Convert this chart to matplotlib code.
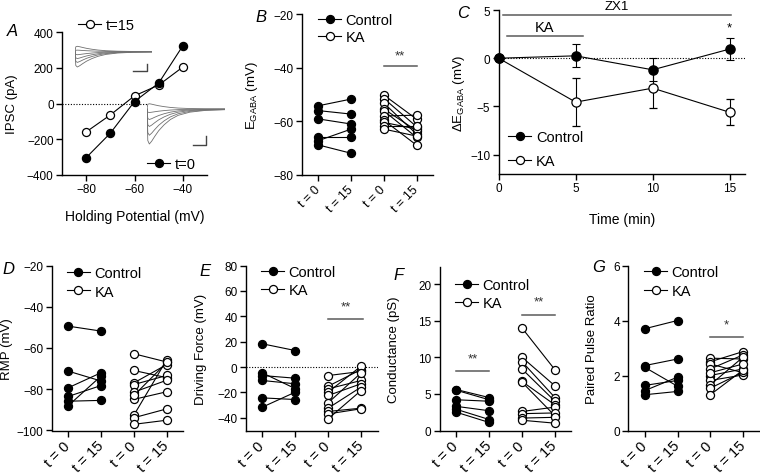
import matplotlib
matplotlib.use('Agg')
import matplotlib.pyplot as plt
from matplotlib.lines import Line2D

plt.rcParams['font.family'] = ['Liberation Sans', 'DejaVu Sans']

# ---------------- data ----------------
# Panel A: IV curve
hold_v = [-80, -70, -60, -50, -40]
ipsc_t0 = [-303, -166, 11, 114, 323]
ipsc_t15 = [-159, -64, 43, 103, 204]
# inset traces (normalized time course, amplitudes)
trace_t = [0, 0.01, 0.03, 0.06, 0.10, 0.15, 0.22, 0.30, 0.40, 0.55, 0.75, 1.0]
trace_shape = [0, 0.9, 1.0, 0.92, 0.78, 0.62, 0.45, 0.30, 0.18, 0.09, 0.04, 0.02]
amp_t15 = [-1.0, -0.7, -0.45, -0.2, 0.1, 0.35]
amp_t0 = [-1.0, -0.75, -0.5, -0.3, -0.1, 0.15]

# Panel B: E_GABA
b_ctrl_t0 = [-54.2, -56.0, -59.1, -66.0, -67.2, -68.8]
b_ctrl_t15 = [-51.7, -57.3, -61.0, -66.0, -62.9, -71.9]
b_ka_t0 = [-50.2, -51.5, -53.2, -55.4, -56.1, -58.0, -59.6, -60.4, -61.7, -62.9]
b_ka_t15 = [-59.2, -62.0, -64.8, -63.5, -66.0, -57.7, -68.9, -62.9, -61.7, -65.5]

# Panel C: delta E_GABA over time
time_min = [0, 5, 10, 15]
c_ctrl = [0, 0.25, -1.2, 0.95]
c_ctrl_err = [0, 1.2, 1.2, 1.15]
c_ka = [0, -4.55, -3.1, -5.6]
c_ka_err = [0, 2.45, 2.1, 1.35]

# Panel D: RMP
d_ctrl_t0 = [-49.4, -71.2, -79.3, -83.5, -85.8, -88.0]
d_ctrl_t15 = [-51.8, -76.0, -72.0, -78.2, -85.4, -73.6]
d_ka_t0 = [-62.8, -70.9, -76.9, -77.7, -81.4, -84.9, -92.5, -93.8, -97.0, -83.0]
d_ka_t15 = [-66.8, -74.4, -68.0, -73.3, -75.6, -81.2, -65.6, -89.5, -95.0, -67.0]

# Panel E: driving force
e_ctrl_t0 = [18.3, -4.6, -6.7, -10.6, -24.3, -31.6]
e_ctrl_t15 = [13.0, -17.0, -8.8, -13.2, -25.6, -19.8]
e_ka_t0 = [-6.7, -15.1, -17.2, -19.8, -22.4, -28.2, -32.4, -35.0, -36.9, -40.8]
e_ka_t15 = [-3.5, -2.0, -10.6, 0.7, -13.2, -4.6, -15.8, -32.4, -32.9, -18.5]

# Panel F: conductance
f_ctrl_t0 = [5.6, 5.5, 4.2, 3.3, 2.9, 2.5]
f_ctrl_t15 = [4.5, 4.2, 4.0, 2.7, 1.5, 1.1]
f_ka_t0 = [14.0, 10.0, 9.4, 8.4, 6.7, 6.6, 2.6, 2.3, 1.7, 1.4]
f_ka_t15 = [8.3, 6.1, 4.5, 4.0, 3.5, 2.0, 3.2, 2.4, 1.8, 1.0]

# Panel G: paired pulse ratio
g_ctrl_t0 = [3.7, 2.36, 2.3, 1.64, 1.45, 1.3]
g_ctrl_t15 = [4.0, 2.6, 1.61, 1.82, 1.94, 1.42]
g_ka_t0 = [2.63, 2.5, 2.42, 2.24, 2.0, 1.82, 1.66, 1.54, 1.3, 2.1]
g_ka_t15 = [2.6, 2.87, 2.1, 2.75, 2.24, 2.02, 2.67, 2.12, 2.2, 2.42]

pair_ticks = ['t = 0', 't = 15', 't = 0', 't = 15']

# ---------------- figure ----------------
W, H = 760, 477
fig = plt.figure(figsize=(W / 100, H / 100), dpi=100)


def box(l, t, r, b):
    return [l / W, 1 - b / H, (r - l) / W, (b - t) / H]


def px(x, y):
    return x / W, 1 - y / H


TICK = 8.5
LAB = 9.5
LEG = 10.5
MS = 5.8
LW = 0.8
GRAY = '#5a5a5a'


def style(ax):
    for s in ['top', 'right']:
        ax.spines[s].set_visible(False)
    for s in ['left', 'bottom']:
        ax.spines[s].set_linewidth(1.0)
    ax.tick_params(direction='out', length=4, width=1.0, labelsize=TICK, pad=2)


def handle(filled):
    return Line2D([], [], color='k', lw=LW, marker='o', ms=MS,
                  mfc='k' if filled else 'white', mec='k', mew=0.9)


def legend(ax, hs, labels, x, y, spacing=0.3):
    ax.legend(hs, labels, loc='center left', bbox_to_anchor=(x, y), frameon=False,
              fontsize=LEG, handlelength=1.6, handletextpad=0.3, labelspacing=spacing,
              borderpad=0, borderaxespad=0)


def pairs(ax, x0, a, b, filled):
    for va, vb in zip(a, b):
        ax.plot([x0, x0 + 1], [va, vb], color='k', lw=LW, marker='o', ms=MS,
                mfc='k' if filled else 'white', mec='k', mew=0.9, clip_on=False, zorder=3)


def pair_panel(ax, c0, c1, k0, k1, ylim, yticks, ylabel, labx, xfs):
    style(ax)
    pairs(ax, 0, c0, c1, True)
    pairs(ax, 2, k0, k1, False)
    ax.set_xlim(-0.5, 3.5)
    ax.set_ylim(*ylim)
    ax.set_yticks(yticks)
    ax.set_xticks([0, 1, 2, 3])
    ax.set_xticklabels(pair_ticks, rotation=45, ha='right', va='center',
                       rotation_mode='anchor', fontsize=xfs)
    ax.tick_params(axis='x', pad=5)
    ax.set_ylabel(ylabel, fontsize=LAB)
    ax.yaxis.set_label_coords(labx, 0.5)


def sig(ax, x0, x1, y, ytxt, txt):
    ax.plot([x0, x1], [y, y], color=GRAY, lw=1.1, clip_on=False)
    ax.text((x0 + x1) / 2, ytxt, txt, ha='center', va='center', fontsize=9.5, color='#333333')


# ---- Panel A ----
axA = fig.add_axes(box(62, 33, 207, 176))
style(axA)
axA.plot([-90, -55], [0, 0], ls=(0, (1, 1.5)), color='k', lw=0.8)
axA.plot(hold_v, ipsc_t15, color='k', lw=LW, marker='o', ms=MS, mfc='white', mec='k', mew=0.9, zorder=3)
axA.plot(hold_v, ipsc_t0, color='k', lw=LW, marker='o', ms=MS, mfc='k', mec='k', zorder=4)
axA.set_xlim(-90, -30)
axA.set_ylim(-400, 400)
axA.set_xticks([-80, -60, -40])
axA.set_yticks([-400, -200, 0, 200, 400])
axA.set_xlabel('Holding Potential (mV)', fontsize=10)
axA.xaxis.set_label_coords(0.5, -0.24)
axA.set_ylabel('IPSC (pA)', fontsize=LAB)
axA.yaxis.set_label_coords(-0.30, 0.5)
leg1 = axA.legend([handle(False)], ['t=15'], loc='center left', bbox_to_anchor=(0.11, 1.05),
                  frameon=False, fontsize=LEG, handlelength=1.6, handletextpad=0.3,
                  borderpad=0, borderaxespad=0)
axA.add_artist(leg1)
axA.legend([handle(True)], ['t=0'], loc='center left', bbox_to_anchor=(0.586, 0.077),
           frameon=False, fontsize=LEG, handlelength=1.6, handletextpad=0.3,
           borderpad=0, borderaxespad=0)

# insets with traces
insU = fig.add_axes(box(75, 45, 152, 70))
insU.axis('off')
for a in amp_t15:
    insU.plot(trace_t, [a * s for s in trace_shape], color='#707070', lw=0.6)
insU.set_xlim(0, 1)
insU.set_ylim(-1.13, 0.5)
insL = fig.add_axes(box(147, 100, 225, 148))
insL.axis('off')
for a in amp_t0:
    insL.plot(trace_t, [a * s for s in trace_shape], color='#707070', lw=0.6)
insL.set_xlim(0, 1)
insL.set_ylim(-1.086, 0.286)
# scale bars
for (xa, ya, xc, yc) in [(133, 72, 147, 65), (193, 146, 206, 137)]:
    fig.add_artist(Line2D([px(xa, ya)[0], px(xc, ya)[0], px(xc, yc)[0]],
                          [px(xa, ya)[1], px(xc, ya)[1], px(xc, yc)[1]],
                          color='#444444', lw=1.0))

# ---- Panel B ----
axB = fig.add_axes(box(302, 15, 433, 176))
pair_panel(axB, b_ctrl_t0, b_ctrl_t15, b_ka_t0, b_ka_t15, (-80, -20), [-80, -60, -40, -20],
           r'E$_{\mathregular{GABA}}$ (mV)', -0.32, 9)
sig(axB, 2, 3, -39.5, -35.5, '**')
legend(axB, [handle(True), handle(False)], ['Control', 'KA'], 0.121, 0.91, 0.25)

# ---- Panel C ----
axC = fig.add_axes(box(498.7, 11, 745, 175))
style(axC)
axC.plot([0, 16], [0, 0], ls=(0, (1, 1.5)), color='k', lw=0.8)
axC.errorbar(time_min, c_ka, yerr=c_ka_err, color='k', lw=LW, marker='o', ms=MS + 0.8,
             mfc='white', mec='k', mew=0.9, capsize=3, elinewidth=LW, capthick=LW,
             clip_on=False, zorder=3)
axC.errorbar(time_min, c_ctrl, yerr=c_ctrl_err, color='k', lw=LW, marker='o', ms=MS + 0.8,
             mfc='k', mec='k', capsize=3, elinewidth=LW, capthick=LW, clip_on=False, zorder=4)
axC.set_xlim(0, 16)
axC.set_ylim(-12, 5)
axC.set_xticks([0, 5, 10, 15])
axC.set_yticks([-10, -5, 0, 5])
axC.set_xlabel('Time (min)', fontsize=10)
axC.xaxis.set_label_coords(0.5, -0.23)
axC.set_ylabel('ΔE$_{\\mathregular{GABA}}$ (mV)', fontsize=LAB)
axC.yaxis.set_label_coords(-0.13, 0.5)
axC.plot([0.3, 15.1], [4.5, 4.5], color=GRAY, lw=1.1, clip_on=False)
axC.text(7.7, 5.4, 'ZX1', ha='center', va='center', fontsize=9.5)
axC.plot([0.55, 5.45], [2.35, 2.35], color=GRAY, lw=1.1, clip_on=False)
axC.text(3.0, 3.2, 'KA', ha='center', va='center', fontsize=LEG)
axC.text(15, 3.2, '*', ha='center', va='center', fontsize=9.5)
legend(axC, [handle(True), handle(False)], ['Control', 'KA'], 0.038, 0.151, 0.7)

# ---- Panel D ----
ROW = (266.5, 431.5)
XFS = 10.5
axD = fig.add_axes(box(51.7, ROW[0], 183.3, ROW[1]))
pair_panel(axD, d_ctrl_t0, d_ctrl_t15, d_ka_t0, d_ka_t15, (-100, -20),
           [-100, -80, -60, -40, -20], 'RMP (mV)', -0.296, XFS)
legend(axD, [handle(True), handle(False)], ['Control', 'KA'], 0.114, 0.898)

# ---- Panel E ----
axE = fig.add_axes(box(245.9, ROW[0], 377.5, ROW[1]))
pair_panel(axE, e_ctrl_t0, e_ctrl_t15, e_ka_t0, e_ka_t15, (-50, 80),
           [-40, -20, 0, 20, 40, 60, 80], 'Driving Force (mV)', -0.298, XFS)
axE.plot([-0.5, 3.5], [0, 0], ls=(0, (1, 1.5)), color='k', lw=0.8, zorder=1)
sig(axE, 2, 3.05, 38, 48, '**')
legend(axE, [handle(True), handle(False)], ['Control', 'KA'], 0.115, 0.905)

# ---- Panel F ----
axF = fig.add_axes(box(439.8, 268.3, 571.4, ROW[1]))
pair_panel(axF, f_ctrl_t0, f_ctrl_t15, f_ka_t0, f_ka_t15, (0, 22.3),
           [0, 5, 10, 15, 20], 'Conductance (pS)', -0.30, XFS)
sig(axF, 0, 1, 8.1, 9.9, '**')
sig(axF, 2, 3, 15.8, 17.6, '**')
legend(axF, [handle(True), handle(False)], ['Control', 'KA'], 0.115, 0.835)

# ---- Panel G ----
axG = fig.add_axes(box(628.3, ROW[0], 759.5, ROW[1]))
pair_panel(axG, g_ctrl_t0, g_ctrl_t15, g_ka_t0, g_ka_t15, (0, 6),
           [0, 2, 4, 6], 'Paired Pulse Ratio', -0.228, XFS)
sig(axG, 2, 3, 3.4, 3.85, '*')
legend(axG, [handle(True), handle(False)], ['Control', 'KA'], 0.119, 0.902)

# panel letters
for lab, (x, y) in zip('ABCDEFG', [(7, 32), (255, 17), (457, 14), (2, 270), (199, 272), (393, 276), (592, 267)]):
    fig.text(*px(x, y), lab, fontsize=12, style='italic', ha='left', va='center')

fig.savefig('out.png', dpi=100)
